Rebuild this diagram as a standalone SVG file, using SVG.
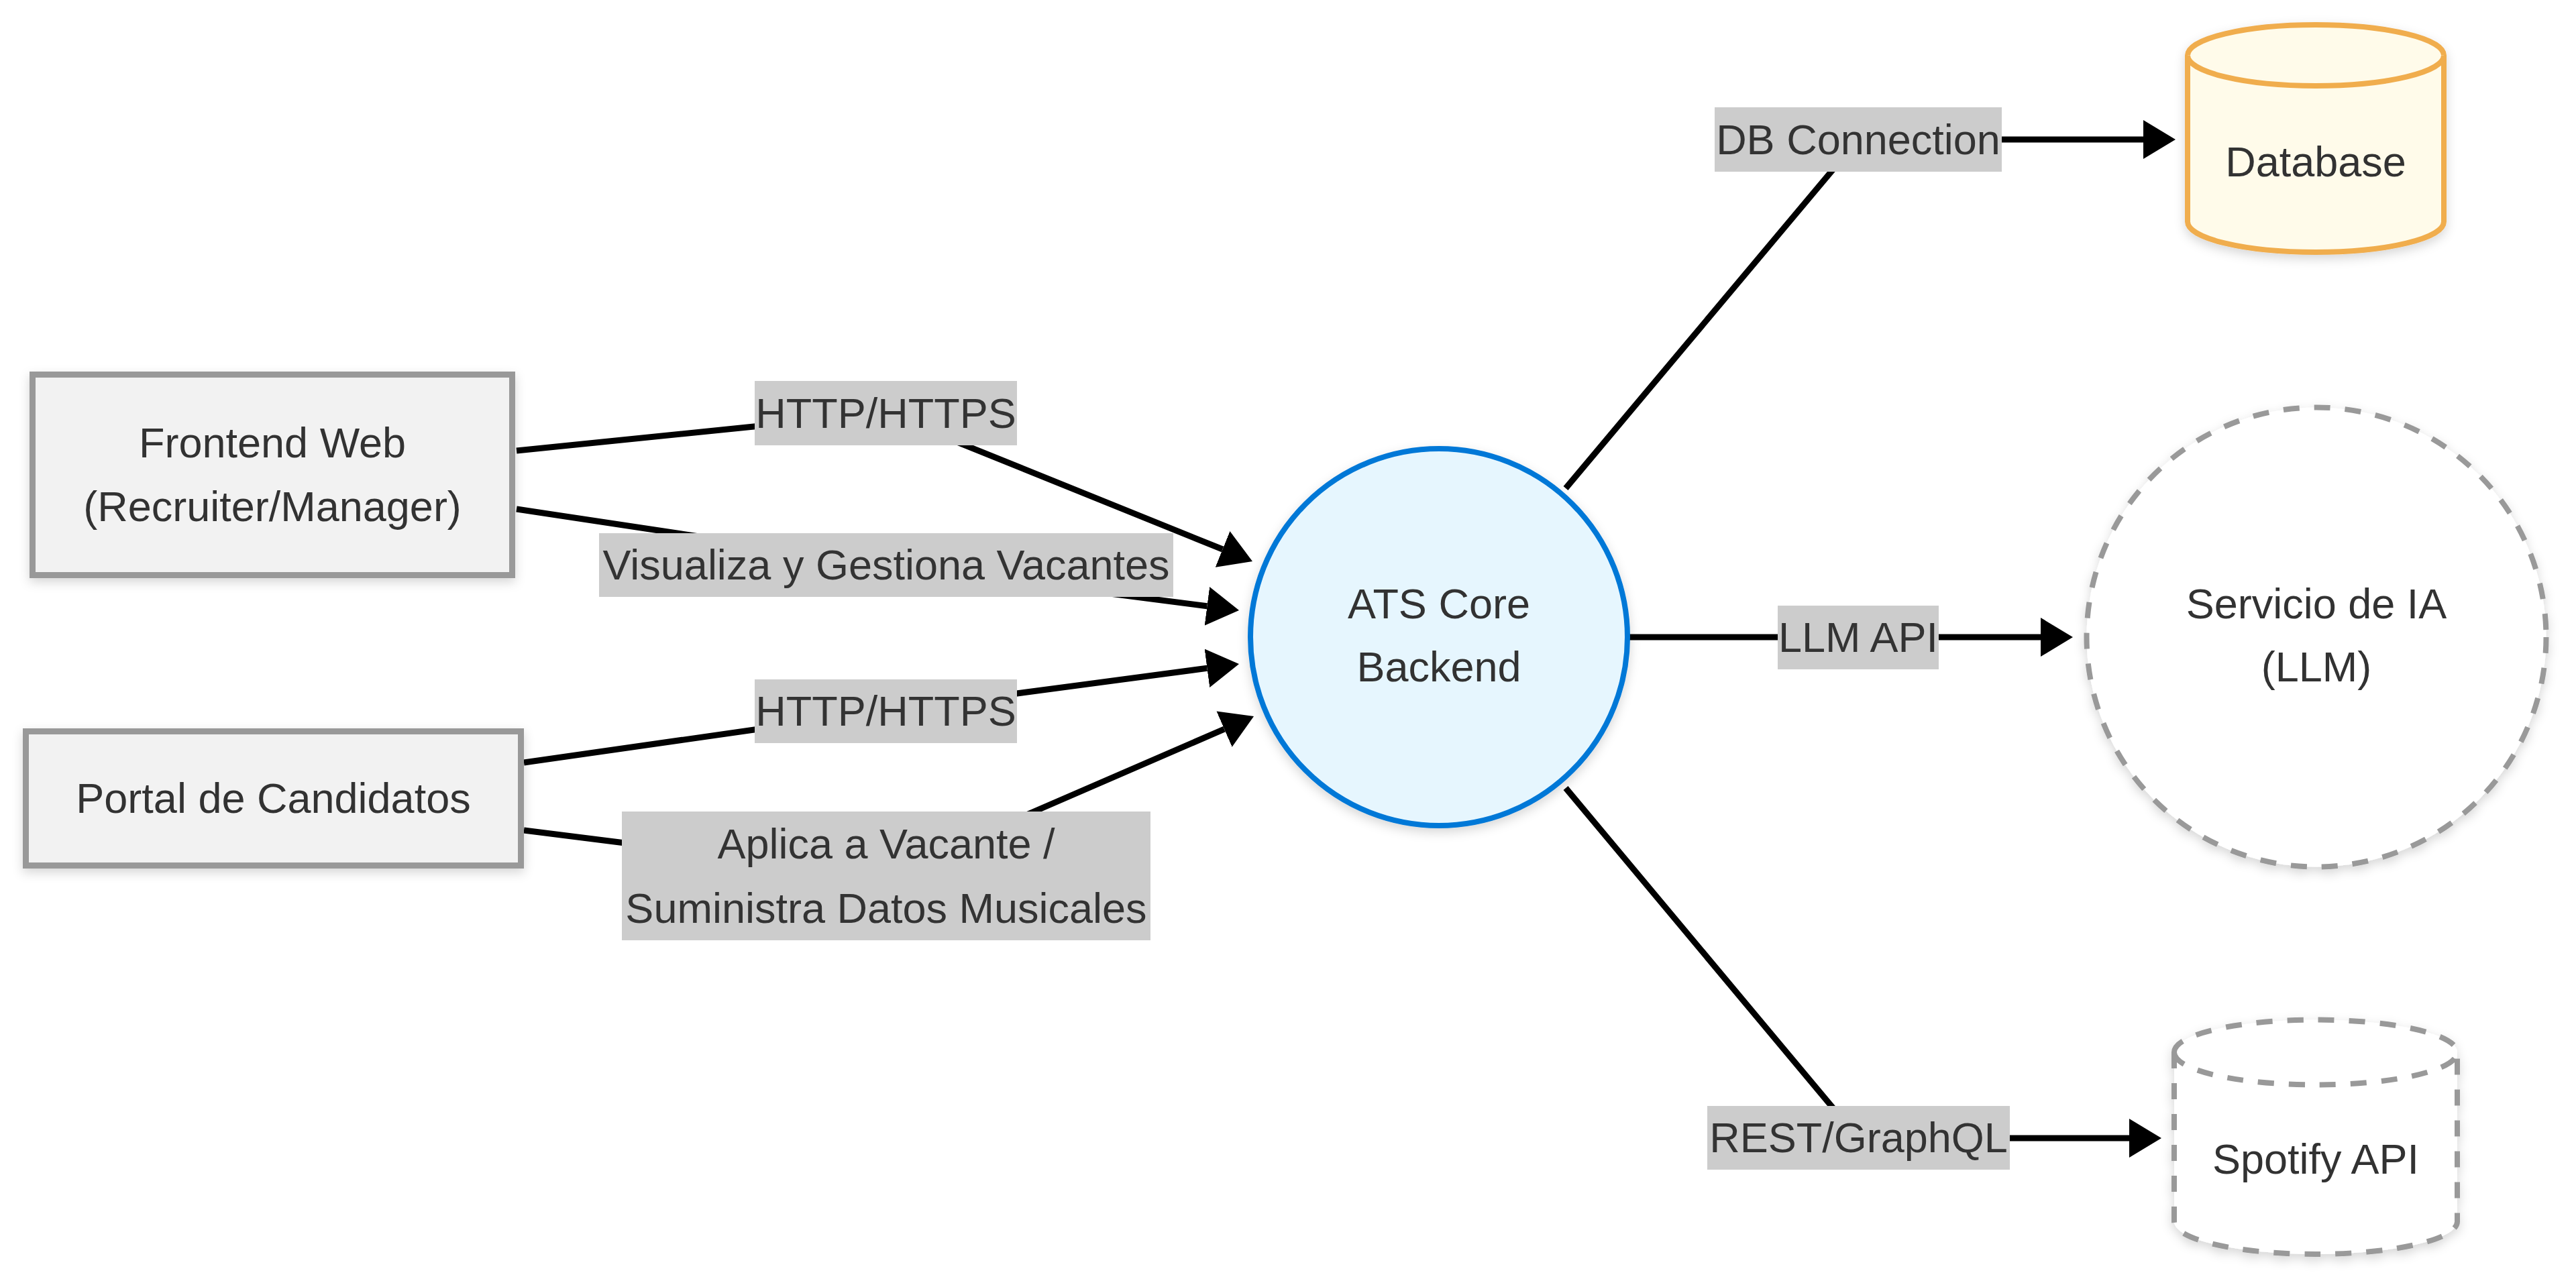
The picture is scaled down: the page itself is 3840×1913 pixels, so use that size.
<svg xmlns="http://www.w3.org/2000/svg" width="3840" height="1913" viewBox="0 0 3840 1913">
  <defs>
    <filter id="shadow" x="-20%" y="-20%" width="140%" height="140%">
      <feDropShadow dx="0" dy="6" stdDeviation="8" flood-color="#000" flood-opacity="0.16"/>
    </filter>
    <marker id="arrow" viewBox="0 0 48 58" refX="0" refY="29" markerWidth="48" markerHeight="58" markerUnits="userSpaceOnUse" orient="auto">
      <path d="M0,0 L48,29 L0,58 Z" fill="#000"/>
    </marker>
  </defs>
  <style>
    text { font-family: "Liberation Sans", Arial, Helvetica, sans-serif; font-size: 63px; fill: #333333; text-anchor: middle; }
    .edge { fill: none; stroke: #000; stroke-width: 9; stroke-linejoin: miter; }
    .lbl { fill: #cccccc; }
    .box { fill: #f2f2f2; stroke: #999999; stroke-width: 9; }
    .core { fill: #e6f6fe; stroke: #0078d7; stroke-width: 8; }
    .ext { fill: #ffffff; stroke: #999999; stroke-width: 8; stroke-dasharray: 24 22; }
    .db { fill: #fffbea; stroke: #f0ad4e; stroke-width: 8; }
  </style>
  <rect width="3840" height="1913" fill="#ffffff"/>

  <g id="connectors">
    <polyline class="edge" points="770,672 1320,616 1822.5,819" marker-end="url(#arrow)"/>
    <polyline class="edge" points="770,759 1321,842 1799.4,903.8" marker-end="url(#arrow)"/>
    <polyline class="edge" points="781,1137 1320,1060 1799.4,996.3" marker-end="url(#arrow)"/>
    <polyline class="edge" points="781,1238 1320,1306 1825,1087.1" marker-end="url(#arrow)"/>
    <polyline class="edge" points="2334,728 2770,208 3195,208" marker-end="url(#arrow)"/>
    <polyline class="edge" points="2427,950 2770,950 3042,950" marker-end="url(#arrow)"/>
    <polyline class="edge" points="2334,1175 2770,1697 3174,1697" marker-end="url(#arrow)"/>

    <g id="label-http1">
      <rect class="lbl" x="1125" y="568" width="391" height="96"/>
      <text x="1320.5" y="638">HTTP/HTTPS</text>
    </g>
    <g id="label-visualiza">
      <rect class="lbl" x="893" y="795" width="856" height="95"/>
      <text x="1321" y="864">Visualiza y Gestiona Vacantes</text>
    </g>
    <g id="label-http2">
      <rect class="lbl" x="1125" y="1013" width="391" height="95"/>
      <text x="1320.5" y="1082">HTTP/HTTPS</text>
    </g>
    <g id="label-aplica">
      <rect class="lbl" x="927" y="1210" width="788" height="192"/>
      <text x="1321" y="1280">Aplica a Vacante /</text>
      <text x="1321" y="1376">Suministra Datos Musicales</text>
    </g>
    <g id="label-db">
      <rect class="lbl" x="2556" y="160" width="428" height="96"/>
      <text x="2770" y="230">DB Connection</text>
    </g>
    <g id="label-llm">
      <rect class="lbl" x="2650" y="903" width="240" height="95"/>
      <text x="2770" y="972">LLM API</text>
    </g>
    <g id="label-rest">
      <rect class="lbl" x="2545" y="1649" width="451" height="95"/>
      <text x="2770.5" y="1718">REST/GraphQL</text>
    </g>
  </g>

  <g id="frontend" filter="url(#shadow)">
    <rect class="box" x="48.5" y="558.5" width="715" height="299"/>
    <text x="406" y="682">Frontend Web</text>
    <text x="406" y="777">(Recruiter/Manager)</text>
  </g>

  <g id="portal" filter="url(#shadow)">
    <rect class="box" x="38.5" y="1090.5" width="738" height="200"/>
    <text x="407.5" y="1212">Portal de Candidatos</text>
  </g>

  <g id="ats-core" filter="url(#shadow)">
    <circle class="core" cx="2145" cy="950" r="281"/>
    <text x="2145" y="922">ATS Core</text>
    <text x="2145" y="1016">Backend</text>
  </g>

  <g id="servicio-ia" filter="url(#shadow)">
    <circle class="ext" cx="3453" cy="950" r="342.5"/>
    <text x="3453" y="922">Servicio de IA</text>
    <text x="3453" y="1016">(LLM)</text>
  </g>

  <g id="database" filter="url(#shadow)">
    <path class="db" d="M3261,82.5 L3261,330.5 A191,45.5 0 0 0 3643,330.5 L3643,82.5 A191,45.5 0 0 0 3261,82.5 Z"/>
    <path class="db" fill="none" d="M3261,82.5 A191,45.5 0 0 0 3643,82.5"/>
    <text x="3452" y="263">Database</text>
  </g>

  <g id="spotify" filter="url(#shadow)">
    <path class="ext" d="M3241,1569 L3241,1821.5 A211,48.5 0 0 0 3663,1821.5 L3663,1569 A211,48.5 0 0 0 3241,1569 Z"/>
    <path class="ext" style="fill:none" d="M3241,1569 A211,48.5 0 0 0 3663,1569"/>
    <text x="3452" y="1750">Spotify API</text>
  </g>
</svg>
